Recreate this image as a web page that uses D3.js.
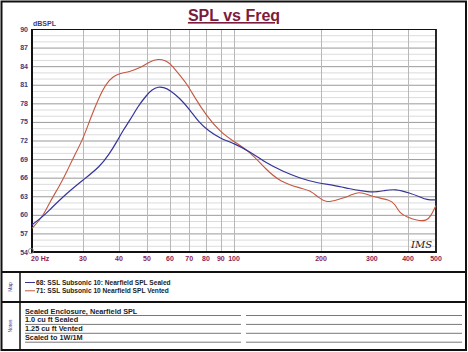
<!DOCTYPE html>
<html><head><meta charset="utf-8">
<script src="https://cdn.jsdelivr.net/npm/d3@7"></script>
<style>body{margin:0;background:#fff}svg{display:block;font-family:"Liberation Sans",Arial,sans-serif}</style>
</head><body>
<svg id="c" width="468" height="352"></svg>
<script>
const title = "SPL vs Freq";
const yTicks = [90,87,84,81,78,75,72,69,66,63,60,57,54];
const xTicks = [20,30,40,50,60,70,80,90,100,200,300,400,500];
const xTickLabels = ["20 Hz","30","40","50","60","70","80","90","100","200","300","400","500"];
const seriesNames = ["68: SSL Subsonic 10: Nearfield SPL Sealed","71: SSL Subsonic 10 Nearfield SPL Vented"];
const notes = ["Sealed Enclosure, Nearfield SPL","1.0 cu ft Sealed","1.25 cu ft Vented","Scaled to 1W/1M"];

const sealedFreq = [20,21.8,23,26.4,30,34.4,37,39.3,41.4,43.7,46.5,49.9,52,54.7,57,60,65,70,76,82,89.4,100,113.6,129.8,148,169,196,220,252,273,303,330,362,406,440,464,500];
const sealedDb   = [58.4,59.7,60.8,63.5,65.6,67.8,69.8,71.8,73.7,75.3,77.5,79.35,80.2,80.7,80.6,80.15,78.8,77.1,74.8,73.5,72.35,71.55,70.2,68.3,67.0,65.9,65.1,64.8,64.2,63.9,63.6,63.9,64.2,63.5,62.9,62.4,62.4];

const ventedFreq = [20,21.8,23,25,26.4,28,30,31.7,34.4,36.3,38.1,40,43.5,47.3,51,54.7,58,60,64,68.6,73,80,89.4,100,113.6,129.8,144,169,183,196,209,230,250,269,294,304,346,360,375,400,428,464,480,500];
const ventedDb   = [57.8,59.7,62.0,64.8,67.0,69.5,72.2,75.3,79.4,81.3,82.3,82.8,83.1,83.7,84.7,85.2,84.9,84.5,82.9,81.2,79.0,76.1,73.4,71.8,70.2,67.2,65.4,64.3,64.0,62.8,61.9,62.5,63.0,63.8,63.2,62.9,62.4,61.8,60.2,59.6,59.1,59.0,59.8,61.5];

const svg = d3.select("#c");
const L=32,R=436,T=29,B=252;
const x = d3.scaleLog().domain([20,500]).range([L,R]);
const y = d3.scaleLinear().domain([54,90]).range([B,T]);

// outer frame
svg.append("rect").attr("x",1.5).attr("y",1.5).attr("width",464.5).attr("height",348.5).attr("fill","#fff").attr("stroke","#111").attr("stroke-width",2);

// title
svg.append("text").attr("x",234).attr("y",21).attr("text-anchor","middle").attr("font-size",16).attr("font-weight","bold")
  .attr("fill","#7b1c3c").attr("text-decoration","underline").text(title);

// grid
const g = svg.append("g");
g.selectAll(".hm").data(d3.range(55,90)).join("line").attr("x1",L).attr("x2",R)
  .attr("y1",d=>y(d)+0.5).attr("y2",d=>y(d)+0.5).attr("stroke",d=>d%3===0?"#9a9a9a":"#dcdcdc").attr("stroke-width",1);
g.selectAll(".vg").data(xTicks.slice(1,-1)).join("line").attr("y1",T).attr("y2",B)
  .attr("x1",d=>Math.round(x(d))+0.5).attr("x2",d=>Math.round(x(d))+0.5).attr("stroke","#b8b8b8").attr("stroke-width",1);

// plot frame
svg.append("line").attr("x1",L).attr("x2",R).attr("y1",T+0.5).attr("y2",T+0.5).attr("stroke","#111").attr("stroke-width",1);
svg.append("line").attr("x1",R).attr("x2",R).attr("y1",T).attr("y2",B+1).attr("stroke","#111").attr("stroke-width",1.8);
svg.append("line").attr("x1",L).attr("x2",L).attr("y1",T).attr("y2",B+1).attr("stroke","#111").attr("stroke-width",2);
svg.append("line").attr("x1",L-1).attr("x2",R+1).attr("y1",B).attr("y2",B).attr("stroke","#111").attr("stroke-width",2);

// y ticks
svg.append("g").selectAll("text").data(yTicks).join("text").attr("x",28).attr("y",d=>y(d)+2.5)
  .attr("text-anchor","end").attr("font-size",7).attr("font-weight","bold").attr("fill","#3c3c7a").text(d=>d);
svg.append("text").attr("x",33).attr("y",25.5).attr("font-size",7).attr("font-weight","bold").attr("fill","#3c3c7a").text("dBSPL");
svg.append("circle").attr("cx",31).attr("cy",251).attr("r",2.6).attr("fill","none").attr("stroke","#888").attr("stroke-width",0.8);

// x ticks
svg.append("g").selectAll("text").data(xTicks).join("text")
  .attr("x",(d,i)=>i===0?x(d)-1:x(d)).attr("y",261)
  .attr("text-anchor",(d,i)=>i===0?"start":"middle").attr("font-size",7).attr("font-weight","bold").attr("fill","#8b2252")
  .text((d,i)=>xTickLabels[i]);

// IMS mark
svg.append("text").attr("x",411).attr("y",248).attr("font-size",10).attr("font-style","italic").attr("font-family","DejaVu Serif, serif").attr("fill","#222").text("IMS");

// curves
const line = d3.line().x(d=>x(d[0])).y(d=>y(d[1])).curve(d3.curveBasis);
const sealed = sealedFreq.map((f,i)=>[f,sealedDb[i]]);
const vented = ventedFreq.map((f,i)=>[f,ventedDb[i]]);
svg.append("path").datum(vented).attr("d",line).attr("fill","none").attr("stroke","#c4573f").attr("stroke-width",1.1);
svg.append("path").datum(sealed).attr("d",line).attr("fill","none").attr("stroke","#34349a").attr("stroke-width",1.2);

// lower panels
svg.append("line").attr("x1",1).attr("x2",467).attr("y1",272).attr("y2",272).attr("stroke","#111").attr("stroke-width",2);
svg.append("line").attr("x1",1).attr("x2",467).attr("y1",302).attr("y2",302).attr("stroke","#111").attr("stroke-width",2);
svg.append("line").attr("x1",20).attr("x2",20).attr("y1",272).attr("y2",350).attr("stroke","#111").attr("stroke-width",1.5);

svg.append("text").attr("transform","translate(12,287) rotate(-90)").attr("text-anchor","middle").attr("font-size",5).attr("fill","#3c3c8a").text("Map");
svg.append("text").attr("transform","translate(12,326) rotate(-90)").attr("text-anchor","middle").attr("font-size",5).attr("fill","#3c3c8a").text("Notes");

const legColors = ["#34349a","#c4573f"];
const leg = svg.append("g").selectAll("g").data(seriesNames).join("g").attr("transform",(d,i)=>`translate(0,${282.5+i*8.3})`);
leg.append("line").attr("x1",25).attr("x2",35).attr("y1",0).attr("y2",0).attr("stroke",(d,i)=>legColors[i]).attr("stroke-width",1);
leg.append("text").attr("x",36).attr("y",2.4).attr("font-size",6.6).attr("font-weight","bold").attr("fill","#222").text(d=>d);

const nt = svg.append("g").selectAll("g").data(notes).join("g").attr("transform",(d,i)=>`translate(0,${315+i*8.9})`);
nt.append("line").attr("x1",25).attr("x2",241).attr("y1",0.5).attr("y2",0.5).attr("stroke","#555").attr("stroke-width",0.8);
nt.append("line").attr("x1",246).attr("x2",462).attr("y1",0.5).attr("y2",0.5).attr("stroke","#555").attr("stroke-width",0.8);
nt.append("text").attr("x",25).attr("y",-1.5).attr("font-size",7.3).attr("font-weight","bold").attr("fill","#222").text(d=>d);
</script>
</body></html>
